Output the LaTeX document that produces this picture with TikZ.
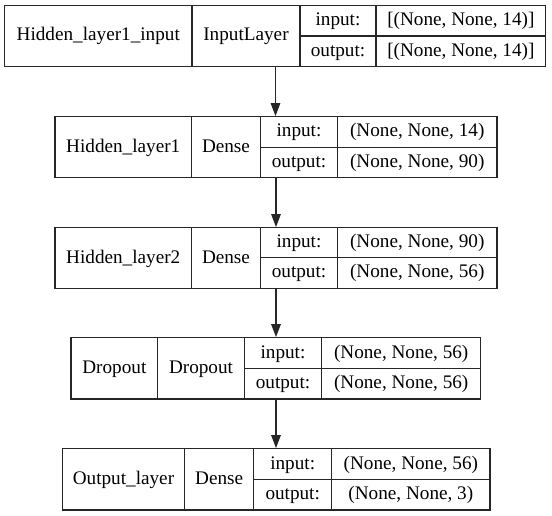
\documentclass[tikz,border=0pt]{standalone}
\usepackage{fontspec}
\setmainfont{Liberation Serif}
\usetikzlibrary{arrows.meta}
\tikzset{
  cell/.style={draw=black!85, line width=1.3pt, inner sep=0pt, outer sep=0pt, align=center,
    text height=13.5pt, text depth=3.5pt,
    font=\fontsize{19.2}{22}\selectfont},
  frame/.style={inner sep=0pt, outer sep=0pt},
  arr/.style={draw=black!85, line width=1.3pt, -{Triangle[length=13pt,width=9.5pt]}, shorten >=0.6pt}
}
\newcommand\cell[6]{\node[cell,minimum width={#4-(#2)},minimum height={#5-(#3)},anchor=center] (#1) at ({(#2+#4)/2},{(#3+#5)/2}) {#6};}
\newcommand\frm[5]{\node[frame,minimum width={#4-(#2)},minimum height={#5-(#3)},anchor=center] (#1) at ({(#2+#4)/2},{(#3+#5)/2}) {};}
\begin{document}
\begin{tikzpicture}[x=1pt,y=-1pt]
\useasboundingbox (0,0) rectangle (552,516);
% layer 1
\frm{L1}{4.5}{5.3}{545.7}{66.7}
\cell{L1a}{4.5}{5.3}{192}{66.7}{Hidden\_layer1\_input}
\cell{L1b}{192}{5.3}{300}{66.7}{InputLayer}
\cell{L1c}{300}{5.3}{376}{36}{input:}
\cell{L1d}{300}{36}{376}{66.7}{output:}
\cell{L1e}{376}{5.3}{545.7}{36}{[(None, None, 14)]}
\cell{L1f}{376}{36}{545.7}{66.7}{[(None, None, 14)]}
% layer 2
\frm{L2}{55}{116.7}{497}{177.7}
\cell{L2a}{55}{116.7}{191.5}{177.7}{Hidden\_layer1}
\cell{L2b}{191.5}{116.7}{260.5}{177.7}{Dense}
\cell{L2c}{260.5}{116.7}{337.5}{147.3}{input:}
\cell{L2d}{260.5}{147.3}{337.5}{177.7}{output:}
\cell{L2e}{337.5}{116.7}{497}{147.3}{(None, None, 14)}
\cell{L2f}{337.5}{147.3}{497}{177.7}{(None, None, 90)}
% layer 3
\frm{L3}{55}{227.7}{497}{288.3}
\cell{L3a}{55}{227.7}{191.5}{288.3}{Hidden\_layer2}
\cell{L3b}{191.5}{227.7}{260.5}{288.3}{Dense}
\cell{L3c}{260.5}{227.7}{337.5}{257.3}{input:}
\cell{L3d}{260.5}{257.3}{337.5}{288.3}{output:}
\cell{L3e}{337.5}{227.7}{497}{257.3}{(None, None, 90)}
\cell{L3f}{337.5}{257.3}{497}{288.3}{(None, None, 56)}
% layer 4
\frm{L4}{71}{337.7}{480.7}{399}
\cell{L4a}{71}{337.7}{157.7}{399}{Dropout}
\cell{L4b}{157.7}{337.7}{244.3}{399}{Dropout}
\cell{L4c}{244.3}{337.7}{321.7}{368.7}{input:}
\cell{L4d}{244.3}{368.7}{321.7}{399}{output:}
\cell{L4e}{321.7}{337.7}{480.7}{368.7}{(None, None, 56)}
\cell{L4f}{321.7}{368.7}{480.7}{399}{(None, None, 56)}
% layer 5
\frm{L5}{62.3}{448.7}{490}{510}
\cell{L5a}{62.3}{448.7}{184.7}{510}{Output\_layer}
\cell{L5b}{184.7}{448.7}{253.7}{510}{Dense}
\cell{L5c}{253.7}{448.7}{331.7}{479.3}{input:}
\cell{L5d}{253.7}{479.3}{331.7}{510}{output:}
\cell{L5e}{331.7}{448.7}{490}{479.3}{(None, None, 56)}
\cell{L5f}{331.7}{479.3}{490}{510}{(None, None, 3)}
% connectors
\coordinate (ax1) at (275.5,0);
\coordinate (ax) at (276,0);
\draw[arr] (L1.south -| ax1) -- (L2.north -| ax1);
\draw[arr] (L2.south -| ax) -- (L3.north -| ax);
\draw[arr] (L3.south -| ax) -- (L4.north -| ax);
\draw[arr] (L4.south -| ax) -- (L5.north -| ax);
\end{tikzpicture}
\end{document}
